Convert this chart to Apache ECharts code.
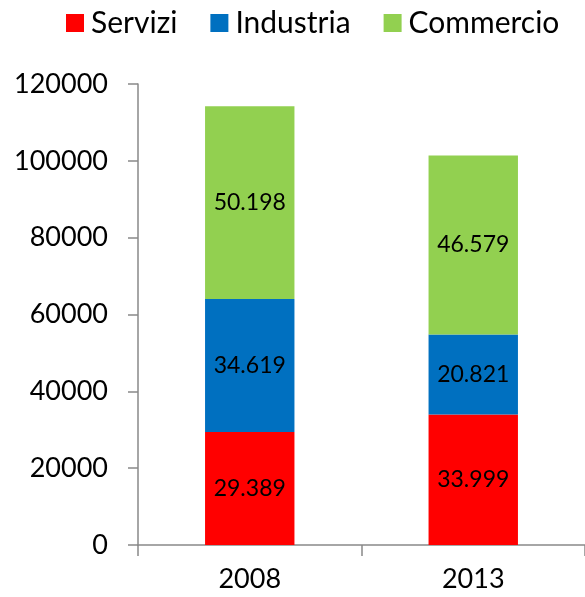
<!DOCTYPE html>
<html><head><meta charset="utf-8">
<script src="https://cdn.jsdelivr.net/npm/echarts@6/dist/echarts.min.js"></script>
<style>html,body{margin:0;padding:0;background:#fff}#c{width:585px;height:597px}</style>
</head><body><div id="c"></div>
<script>
const categories = ['2008', '2013'];
const servizi = [29389, 33999];
const industria = [34619, 20821];
const commercio = [50198, 46579];
const seriesNames = ['Servizi', 'Industria', 'Commercio'];
const colors = ['#FF0000', '#0070C0', '#92D050'];

const FONT = 'Lato';
function fmt(v) { return String(v).replace(/\B(?=(\d{3})+(?!\d))/g, '.'); }

const chart = echarts.init(document.getElementById('c'), null, {renderer: 'canvas'});
const mk = (name, data, color) => ({
  name, type: 'bar', stack: 'tot', data, barWidth: '40%',
  itemStyle: {color},
  label: {show: true, position: 'inside', color: '#000', fontFamily: FONT, fontSize: 23,
    formatter: p => fmt(p.value)}
});
chart.setOption({
  animation: false,
  color: colors,
  textStyle: {fontFamily: FONT},
  legend: {
    top: 3, left: 61, itemWidth: 18, itemHeight: 18, itemGap: 33,
    icon: 'rect',
    textStyle: {fontFamily: FONT, fontSize: 30, lineHeight: 30, color: '#000', padding: [0, 0, 0, 2]},
    data: seriesNames
  },
  grid: {left: 138, right: 0, top: 84, bottom: 52, containLabel: false},
  xAxis: {
    type: 'category', data: categories,
    axisLine: {lineStyle: {color: '#898989', width: 1.5}},
    axisTick: {show: true, alignWithLabel: false, length: 11, lineStyle: {color: '#898989', width: 1.5}},
    axisLabel: {color: '#000', fontFamily: FONT, fontSize: 27, margin: 21}
  },
  yAxis: {
    type: 'value', min: 0, max: 120000, interval: 20000,
    splitLine: {show: false},
    axisLine: {show: true, lineStyle: {color: '#898989', width: 1.5}},
    axisTick: {show: true, length: 10, lineStyle: {color: '#898989', width: 1.5}},
    axisLabel: {color: '#000', fontFamily: FONT, fontSize: 27, margin: 30, formatter: v => String(v)}
  },
  series: [mk(seriesNames[0], servizi, colors[0]), mk(seriesNames[1], industria, colors[1]), mk(seriesNames[2], commercio, colors[2])]
});
</script></body></html>
